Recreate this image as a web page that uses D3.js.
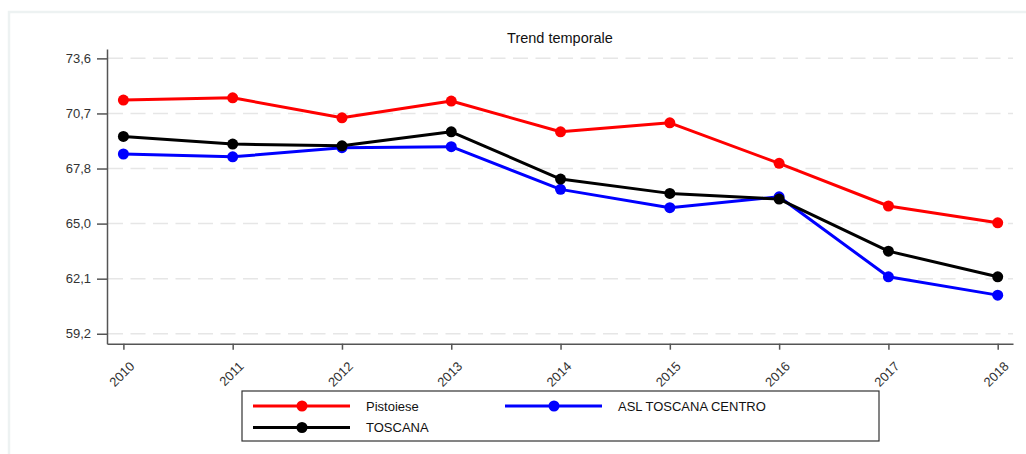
<!DOCTYPE html>
<html>
<head>
<meta charset="utf-8">
<script src="https://cdn.jsdelivr.net/npm/d3@7"></script>
<style>
body { margin: 0; background: #fff; }
svg { font-family: "Liberation Sans", Arial, sans-serif; }
.axis path, .axis line { stroke: #555; stroke-width: 1.5; }
.axis text { fill: #333; font-size: 13px; }
.grid line { stroke: #e6e6e6; stroke-width: 1.5; stroke-dasharray: 15 7.5; }
</style>
</head>
<body>
<svg id="chart"></svg>
<script>
var years = [2010, 2011, 2012, 2013, 2014, 2015, 2016, 2017, 2018];
var pistoiese = [71.42, 71.54, 70.49, 71.37, 69.76, 70.23, 68.11, 65.88, 65.0];
var aslCentro = [68.6, 68.45, 68.93, 68.98, 66.75, 65.79, 66.36, 62.18, 61.22];
var toscana = [69.52, 69.12, 69.03, 69.76, 67.29, 66.54, 66.24, 63.52, 62.18];
var yTicks = [59.2, 62.08, 64.96, 67.84, 70.72, 73.6];

var series = [
  { name: "Pistoiese", values: pistoiese, color: "#ff0000" },
  { name: "ASL TOSCANA CENTRO", values: aslCentro, color: "#0000ff" },
  { name: "TOSCANA", values: toscana, color: "#000000" }
];

var width = 1026, height = 454;

var svg = d3.select("#chart")
  .attr("width", width)
  .attr("height", height);

// light outer frame
svg.append("path")
  .attr("d", "M9,454 V12 H1026")
  .attr("fill", "none")
  .attr("stroke", "#edf2f2")
  .attr("stroke-width", 2.5);

var x = d3.scaleLinear()
  .domain([2009.85, 2018.14])
  .range([107, 1013]);

var y = d3.scaleLinear()
  .domain([58.68, 74.09])
  .range([343.7, 49]);

var fmt = function(d) { return d3.format(".1f")(d).replace(".", ","); };

// title
svg.append("text")
  .attr("x", 560)
  .attr("y", 43)
  .attr("text-anchor", "middle")
  .style("font-size", "14.5px")
  .style("fill", "#111")
  .text("Trend temporale");

// grid
svg.append("g")
  .attr("class", "grid")
  .selectAll("line")
  .data(yTicks)
  .enter().append("line")
  .attr("x1", 108)
  .attr("x2", 1013)
  .attr("y1", function(d) { return y(d); })
  .attr("y2", function(d) { return y(d); });

// axes
svg.append("g")
  .attr("class", "axis")
  .attr("transform", "translate(107,0)")
  .call(d3.axisLeft(y).tickValues(yTicks).tickFormat(fmt).tickSize(10).tickSizeOuter(0).tickPadding(6));

var xAxis = svg.append("g")
  .attr("class", "axis")
  .attr("transform", "translate(0,343.7)")
  .call(d3.axisBottom(x).tickValues(years).tickFormat(d3.format("d")).tickSize(6).tickSizeOuter(0));

xAxis.selectAll("text")
  .attr("text-anchor", "end")
  .attr("dx", 0)
  .attr("dy", 0)
  .style("font-size", "13px")
  .attr("transform", "translate(5,17) rotate(-45)");

// lines
var line = d3.line()
  .x(function(d, i) { return x(years[i]); })
  .y(function(d) { return y(d); });

var g = svg.selectAll(".series")
  .data(series)
  .enter().append("g")
  .attr("class", "series");

g.append("path")
  .attr("d", function(s) { return line(s.values); })
  .attr("fill", "none")
  .attr("stroke", function(s) { return s.color; })
  .attr("stroke-width", 3)
  .attr("stroke-linejoin", "round");

g.selectAll("circle")
  .data(function(s) { return s.values.map(function(v, i) { return { v: v, i: i, color: s.color }; }); })
  .enter().append("circle")
  .attr("cx", function(d) { return x(years[d.i]); })
  .attr("cy", function(d) { return y(d.v); })
  .attr("r", 5.5)
  .attr("fill", function(d) { return d.color; });

// legend
var legend = svg.append("g");
legend.append("rect")
  .attr("x", 242)
  .attr("y", 391)
  .attr("width", 637)
  .attr("height", 50)
  .attr("fill", "#fff")
  .attr("stroke", "#333")
  .attr("stroke-width", 1.2);

var legendPos = [[253, 406], [505, 406], [253, 427.5]];
var item = legend.selectAll(".item")
  .data(series)
  .enter().append("g")
  .attr("transform", function(d, i) { return "translate(" + legendPos[i][0] + "," + legendPos[i][1] + ")"; });

item.append("line")
  .attr("x1", 0).attr("x2", 97)
  .attr("stroke", function(d) { return d.color; })
  .attr("stroke-width", 3);
item.append("circle")
  .attr("cx", 49).attr("r", 5.5)
  .attr("fill", function(d) { return d.color; });
item.append("text")
  .attr("x", 113)
  .attr("dy", "0.35em")
  .style("font-size", "13px")
  .style("fill", "#111")
  .text(function(d) { return d.name; });
</script>
</body>
</html>
